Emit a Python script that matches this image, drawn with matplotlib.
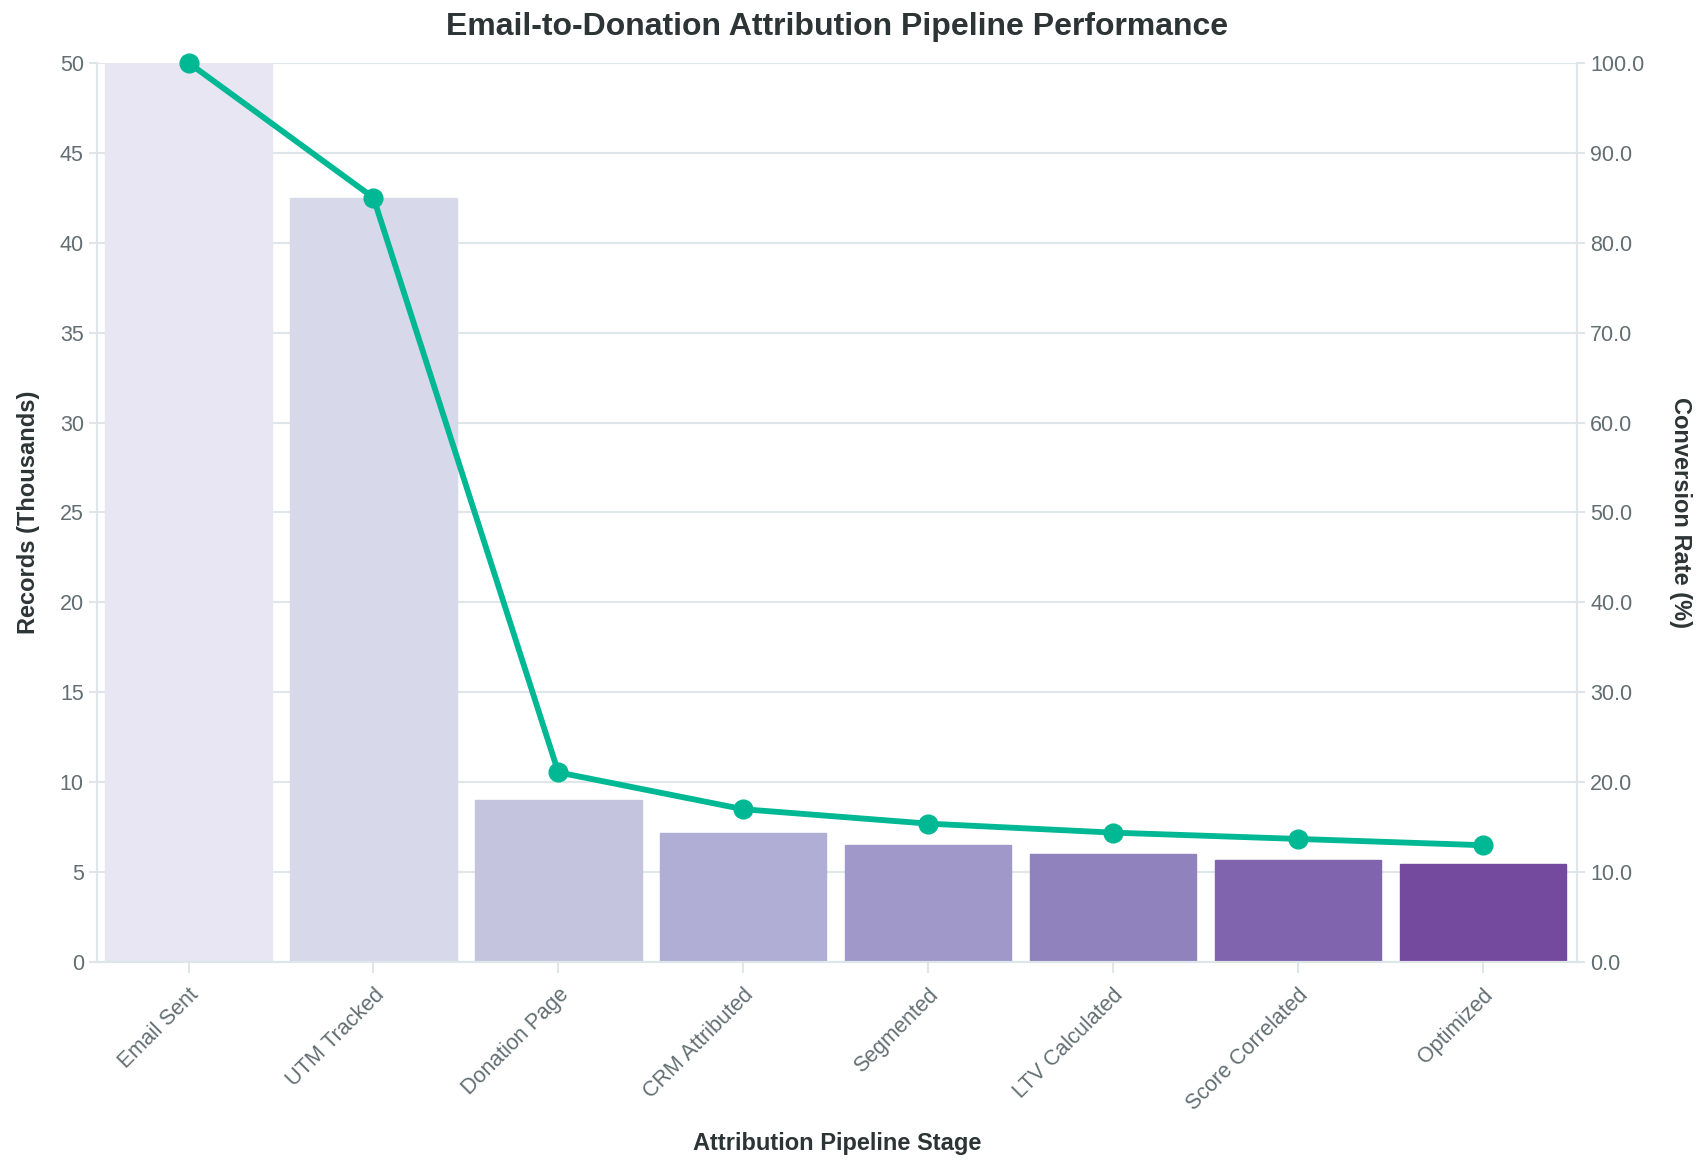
import matplotlib
matplotlib.use("Agg")
import matplotlib.pyplot as plt
from matplotlib.ticker import FormatStrFormatter

plt.rcParams['font.family'] = ['Liberation Sans', 'DejaVu Sans']

stages = ["Email Sent", "UTM Tracked", "Donation Page", "CRM Attributed",
          "Segmented", "LTV Calculated", "Score Correlated", "Optimized"]
records = [50.0, 42.5, 9.0, 7.2, 6.5, 6.0, 5.7, 5.45]
conversion = [100.0, 85.0, 21.1, 17.0, 15.4, 14.4, 13.7, 13.0]
bar_colors = ["#e8e6f2", "#d7d8e9", "#c5c4de", "#b0aed4",
              "#a098c8", "#8f82bd", "#8064ad", "#744a9e"]

line_color = "#00b894"
grid_color = "#dfe6e9"
tick_color = "#636e72"
label_color = "#2d3436"

fig = plt.figure(figsize=(17.02, 11.62), dpi=100)
ax = fig.add_axes([0.057, 0.172, 0.8696, 0.774])

x = list(range(len(stages)))
ax.bar(x, records, width=0.9, color=bar_colors, edgecolor=bar_colors,
       linewidth=1, zorder=2)
ax.set_xlim(-0.495, len(stages) - 0.49)
ax.set_ylim(0, 50)
ax.set_yticks(range(0, 51, 5))
ax.grid(axis='y', color=grid_color, linewidth=1.5, zorder=0)
ax.set_axisbelow(True)
ax.set_xticks(x)
ax.set_xticklabels(stages, rotation=45, ha='right', rotation_mode='anchor')

ax2 = ax.twinx()
ax2.plot(x, conversion, color=line_color, linewidth=4.2, marker='o',
         markersize=13.5, zorder=3, clip_on=False)
ax2.set_ylim(0, 100)
ax2.set_yticks(range(0, 101, 10))
ax2.yaxis.set_major_formatter(FormatStrFormatter('%.1f'))

for a in (ax, ax2):
    a.spines['top'].set_visible(False)
    for side in ['left', 'right', 'bottom']:
        a.spines[side].set_color(grid_color)
        a.spines[side].set_linewidth(1.5)
    a.tick_params(axis='both', colors=grid_color, labelcolor=tick_color,
                  labelsize=15.5, length=6, width=1.5)
ax.tick_params(axis='x', length=8, pad=8)

ax.set_ylabel("Records (Thousands)", fontsize=17, fontweight='bold',
              color=label_color, labelpad=14)
ax2.set_ylabel("Conversion Rate (%)", fontsize=17, fontweight='bold',
               color=label_color, rotation=270, labelpad=34)
ax.set_xlabel("Attribution Pipeline Stage", fontsize=17, fontweight='bold',
              color=label_color, labelpad=13)
ax.set_title("Email-to-Donation Attribution Pipeline Performance",
             fontsize=23, fontweight='bold', color=label_color, pad=20)

fig.savefig("out.png", dpi=100, facecolor='white')
